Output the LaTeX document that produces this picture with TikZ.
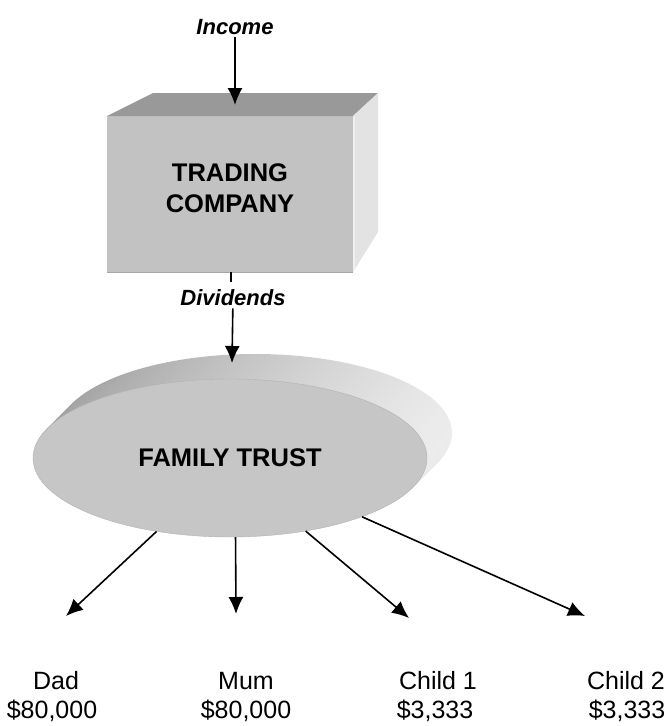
\documentclass[tikz,border=0pt]{standalone}
\usepackage{fontspec}
\setmainfont{Liberation Sans}
\usetikzlibrary{arrows.meta,shapes.geometric}

\begin{document}
\begin{tikzpicture}[x=1pt,y=-1pt,
    beschriftung/.style={
      inner sep=2pt,
      font=\fontsize{22}{26}\selectfont\bfseries\itshape},
    titel/.style={
      inner sep=0pt,
      align=center,
      font=\fontsize{25.5}{31}\selectfont\bfseries},
    stiftung/.style={
      ellipse,
      fill=gray!45,
      draw=gray!60,
      minimum width=394pt,
      minimum height=158pt,
      inner sep=0pt,
      font=\fontsize{25.5}{31}\selectfont\bfseries},
    person/.style={
      anchor=base,
      inner sep=0pt,
      font=\fontsize{25}{30}\selectfont},
    pfeil/.style={-{Latex[length=17pt,width=15pt]}, line width=1.6pt}
    ]
  \useasboundingbox (0,0) rectangle (669,726);

  % the company block
  \fill[gray!48] (107,116) rectangle (353,272);
  \fill[gray!80] (107,116) -- (153,93) -- (378,93) -- (353,116) -- cycle;
  \fill[gray!22] (353,116) -- (378,93) -- (378,232) -- (353,272) -- cycle;
  \draw[gray!12, line width=2pt] (354,117) -- (354,270);
  \draw[gray!70, line width=1pt] (107,272) -- (353,272);
  \node at (230,188) (firma) [titel] {TRADING\\COMPANY};

  % the trust disc
  \foreach \d in {25,24,...,1}
    \shade[left color=gray!75, right color=gray!15] (230+\d,458-\d) ellipse [x radius=197, y radius=79];
  \node at (230,458) (trust) [stiftung] {FAMILY TRUST};

  \node at (235,27) (einkommen) [beschriftung] {Income};
  \coordinate (deckel) at (235,105);
  \path  [pfeil] (einkommen) edge [] (deckel);

  \coordinate (boden) at (231,272);
  \draw [line width=1.6pt] (boden) -- ++(0,10);
  \node at (233,298) (dividende) [beschriftung] {Dividends};
  \coordinate (trustdeckel) at (232,363);
  \path  [pfeil] (dividende) edge [] (trustdeckel);

  \coordinate (spitzeA) at (66,616);
  \coordinate (spitzeB) at (236,614);
  \coordinate (spitzeC) at (409,618);
  \coordinate (spitzeD) at (585,616);

  \path  [pfeil] (trust.225) edge [] (spitzeA);
  \path  [pfeil] (trust.274) edge [] (spitzeB);
  \path  [pfeil] (trust.316) edge [] (spitzeC);
  \path  [pfeil] (trust.336) edge [] (spitzeD);

  \node at (56,689)  (vater)  [person] {Dad};
  \node at (52,718)  (vaterbetrag)  [person] {\$80,000};
  \node at (246,689) (mutter) [person] {Mum};
  \node at (246,718) (mutterbetrag) [person] {\$80,000};
  \node at (438,689) (kindA)  [person] {Child 1};
  \node at (435,718) (kindAbetrag)  [person] {\$3,333};
  \node at (626,689) (kindB)  [person] {Child 2};
  \node at (627,718) (kindBbetrag)  [person] {\$3,333};

\end{tikzpicture}
\end{document}
